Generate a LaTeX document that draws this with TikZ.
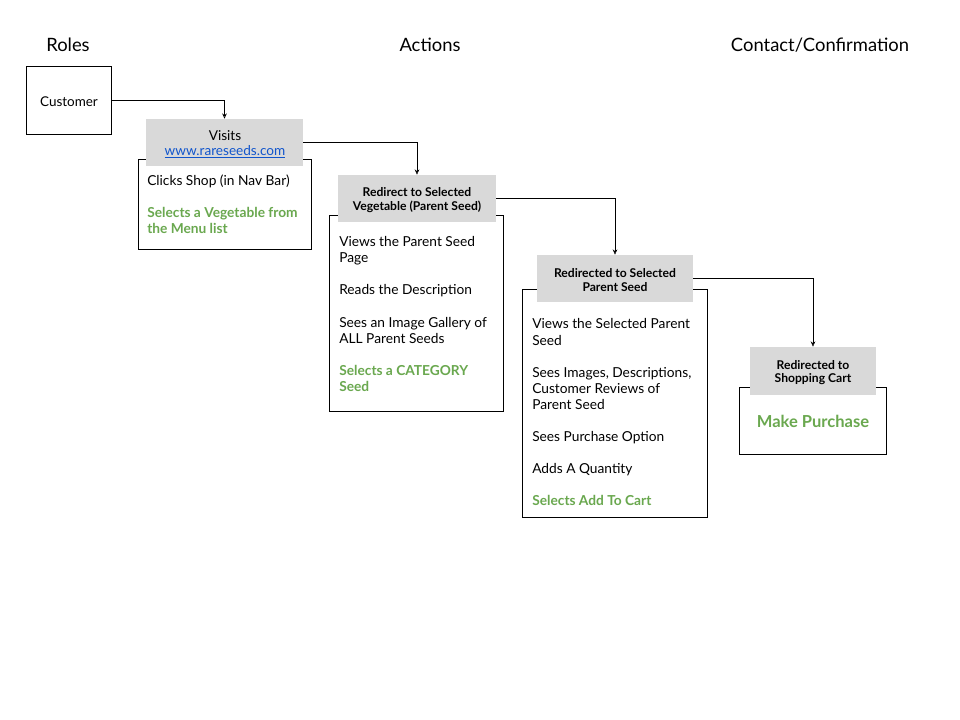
\documentclass[tikz,border=0pt]{standalone}
\usepackage{fontspec}
\setmainfont{Lato}
\usetikzlibrary{arrows.meta}
\definecolor{hdrgray}{HTML}{D9D9D9}
\definecolor{okgreen}{HTML}{6AA84F}
\definecolor{linkblue}{HTML}{1155CC}
\tikzset{
  box/.style={draw=black, line width=0.6pt, fill=white, inner sep=0pt},
  hdr/.style={fill=hdrgray, draw=none, inner sep=0pt},
  txt/.style={inner sep=0pt, anchor=base west, font=\fontsize{10.3}{12}\selectfont},
  gtxt/.style={txt, text=okgreen, font=\fontsize{10.3}{12}\selectfont\bfseries},
  htxt/.style={inner sep=0pt, font=\fontsize{9.1}{10}\selectfont\bfseries},
  title/.style={inner sep=0pt, font=\fontsize{13.8}{16}\selectfont},
  conn/.style={draw=black, line width=0.5pt, -{Stealth[length=4pt,width=3.5pt,open]}}
}
\begin{document}
\begin{tikzpicture}[x=0.75pt,y=-0.75pt]
\useasboundingbox (0,0) rectangle (960,720);
% titles
\node[title] (troles) at (68,45) {Roles};
\node[title] (tact) at (430,45) {Actions};
\node[title] (tcont) at (820,45) {Contact/Confirmation};
% customer
\node[box, minimum width=63.75pt, minimum height=51pt] (cust) at (68.5,100) {};
\node[inner sep=0pt, font=\fontsize{10.1}{12}\selectfont] (custt) at (69,101.5) {Customer};
% box 1
\node[box, minimum width=129.75pt, minimum height=67.5pt] (b1) at (224.5,204) {};
\node[hdr, minimum width=117.75pt, minimum height=35.25pt] (h1) at (224.5,142.5) {};
\node[inner sep=0pt, font=\fontsize{10.2}{12}\selectfont] (h1a) at (225,136) {Visits};
\node[inner sep=0pt, font=\fontsize{10.2}{12}\selectfont, text=linkblue] (h1b) at (225,152) {\underline{www.rareseeds.com}};
\node[txt] (b1l1) at (147,186) {Clicks Shop (in Nav Bar)};
\node[gtxt] (b1l2) at (147,218) {Selects a Vegetable from};
\node[gtxt] (b1l3) at (147,234) {the Menu list};
% box 2
\node[box, minimum width=130.5pt, minimum height=147pt] (b2) at (416,313) {};
\node[hdr, minimum width=118.5pt, minimum height=35.25pt] (h2) at (417,198.5) {};
\node[htxt] (h2a) at (417,192.5) {Redirect to Selected};
\node[htxt] (h2b) at (417,206.5) {Vegetable (Parent Seed)};
\node[txt] (b2l1) at (339,247) {Views the Parent Seed};
\node[txt] (b2l2) at (339,263) {Page};
\node[txt] (b2l3) at (339,295) {Reads the Description};
\node[txt] (b2l4) at (339,327) {Sees an Image Gallery of};
\node[txt] (b2l5) at (339,343) {ALL Parent Seeds};
\node[gtxt] (b2l6) at (339,375) {Selects a CATEGORY};
\node[gtxt] (b2l7) at (339,391) {Seed};
% box 3
\node[box, minimum width=138.75pt, minimum height=171pt] (b3) at (614.5,403) {};
\node[hdr, minimum width=117pt, minimum height=35.25pt] (h3) at (615,278.5) {};
\node[htxt] (h3a) at (615,273.5) {Redirected to Selected};
\node[htxt] (h3b) at (615,287.5) {Parent Seed};
\node[txt] (b3l1) at (532,329) {Views the Selected Parent};
\node[txt] (b3l2) at (532,345) {Seed};
\node[txt] (b3l3) at (532,377) {Sees Images, Descriptions,};
\node[txt] (b3l4) at (532,393) {Customer Reviews of};
\node[txt] (b3l5) at (532,409) {Parent Seed};
\node[txt] (b3l6) at (532,441) {Sees Purchase Option};
\node[txt] (b3l7) at (532,473) {Adds A Quantity};
\node[gtxt] (b3l8) at (532,505) {Selects Add To Cart};
% box 4
\node[box, minimum width=110.25pt, minimum height=50.25pt] (b4) at (812.5,420.5) {};
\node[hdr, minimum width=94.5pt, minimum height=36pt] (h4) at (813,371) {};
\node[htxt] (h4a) at (813,365.5) {Redirected to};
\node[htxt] (h4b) at (813,379.5) {Shopping Cart};
\node[inner sep=0pt, text=okgreen, font=\fontsize{12.4}{14}\selectfont\bfseries] (b4t) at (813,421.5) {Make Purchase};
% connectors
\draw[conn] (cust.east) -| (h1.north);
\draw[conn] (h1.east) -| (h2.north);
\draw[conn] (h2.east) -| (h3.north);
\draw[conn] (h3.east) -| (h4.north);
\end{tikzpicture}
\end{document}
